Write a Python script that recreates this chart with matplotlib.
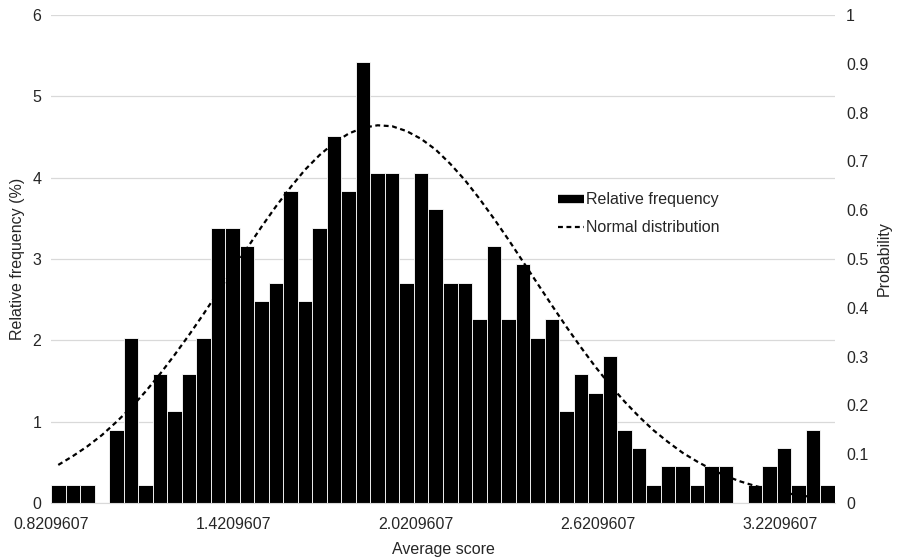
import numpy as np
import matplotlib
matplotlib.use("Agg")
import matplotlib.pyplot as plt
from matplotlib.lines import Line2D

plt.rcParams['font.family'] = ['Liberation Sans', 'DejaVu Sans']

# --- data ---
x_start = 0.8209607          # lowest average score (first bin edge)
x_end = 3.4                  # last bin edge
n_total = 443                # number of respondents

# counts per bin (54 bins)
counts = [1, 1, 1, 0, 4, 9, 1, 7, 5, 7,
          9, 15, 15, 14, 11, 12, 17, 11, 15, 20,
          17, 24, 18, 18, 12, 18, 16, 12, 12, 10,
          14, 10, 13, 9, 10, 5, 7, 6, 8, 4,
          3, 1, 2, 2, 1, 2, 2, 0, 1, 2,
          3, 1, 4, 1]

# normal distribution value at each bin centre (right axis)
normal_prob = [0.078, 0.096, 0.116, 0.139, 0.166, 0.195, 0.228, 0.264, 0.303, 0.344,
               0.387, 0.432, 0.477, 0.522, 0.566, 0.608, 0.647, 0.683, 0.713, 0.738,
               0.757, 0.769, 0.774, 0.772, 0.762, 0.746, 0.724, 0.695, 0.662, 0.624,
               0.583, 0.540, 0.495, 0.450, 0.405, 0.361, 0.319, 0.279, 0.242, 0.208,
               0.177, 0.149, 0.125, 0.103, 0.085, 0.069, 0.055, 0.044, 0.035, 0.027,
               0.021, 0.016, 0.012, 0.009]

xtick_labels = ["0.8209607", "1.4209607", "2.0209607", "2.6209607", "3.2209607"]

# --- derived ---
n_bins = len(counts)
width = (x_end - x_start) / n_bins
lefts = x_start + width * np.arange(n_bins)
centers = lefts + width / 2
rel_freq = np.array(counts) / n_total * 100

grid_col = "#d9d9d9"
txt_col = "#262626"
fs = 11.5

fig = plt.figure(figsize=(8.98, 5.57), dpi=100)
ax = fig.add_axes([51 / 898, 1 - 503 / 557, (835 - 51) / 898, (503 - 15) / 557])

ax.bar(lefts, rel_freq, width=width, align='edge', color='black',
       edgecolor='white', linewidth=0.6, zorder=2)
ax.set_xlim(x_start, x_end)
ax.set_ylim(0, 6)
ax.set_yticks(range(0, 7))
ax.set_xticks([float(s) for s in xtick_labels])
ax.set_xticklabels(xtick_labels)
ax.grid(axis='y', color=grid_col, linewidth=0.9, zorder=0)
ax.set_axisbelow(True)
for s in ['top', 'right', 'left']:
    ax.spines[s].set_visible(False)
ax.spines['bottom'].set_color(grid_col)
ax.tick_params(axis='both', length=0, labelsize=fs, colors=txt_col)
ax.tick_params(axis='x', pad=10)
ax.tick_params(axis='y', pad=7)
ax.set_xlabel("Average score", fontsize=fs, color=txt_col, labelpad=7)
ax.set_ylabel("Relative frequency (%)", fontsize=fs, color=txt_col, labelpad=5)

ax2 = ax.twinx()
ax2.plot(centers, normal_prob, color='black', linestyle=(0, (2.2, 1.6)), linewidth=1.6)
ax2.set_ylim(0, 1)
ax2.set_yticks(np.arange(0, 11) / 10)
ax2.set_yticklabels(["0", "0.1", "0.2", "0.3", "0.4", "0.5", "0.6", "0.7", "0.8", "0.9", "1"])
for s in ax2.spines.values():
    s.set_visible(False)
ax2.tick_params(axis='y', length=0, labelsize=fs, colors=txt_col, pad=8)
ax2.set_ylabel("Probability", fontsize=fs, color=txt_col, labelpad=6)

handles = [Line2D([], [], color='black', linewidth=6, solid_capstyle='butt'),
           Line2D([], [], color='black', linestyle=(0, (2.2, 1.6)), linewidth=1.6)]
ax.legend(handles, ["Relative frequency", "Normal distribution"],
          loc='upper left', bbox_to_anchor=(544 / 898, 1 - 178 / 557),
          bbox_transform=fig.transFigure, frameon=False, fontsize=fs,
          handlelength=1.6, handletextpad=0.1, labelspacing=0.8,
          labelcolor=txt_col)

fig.savefig("out.png", dpi=100)
